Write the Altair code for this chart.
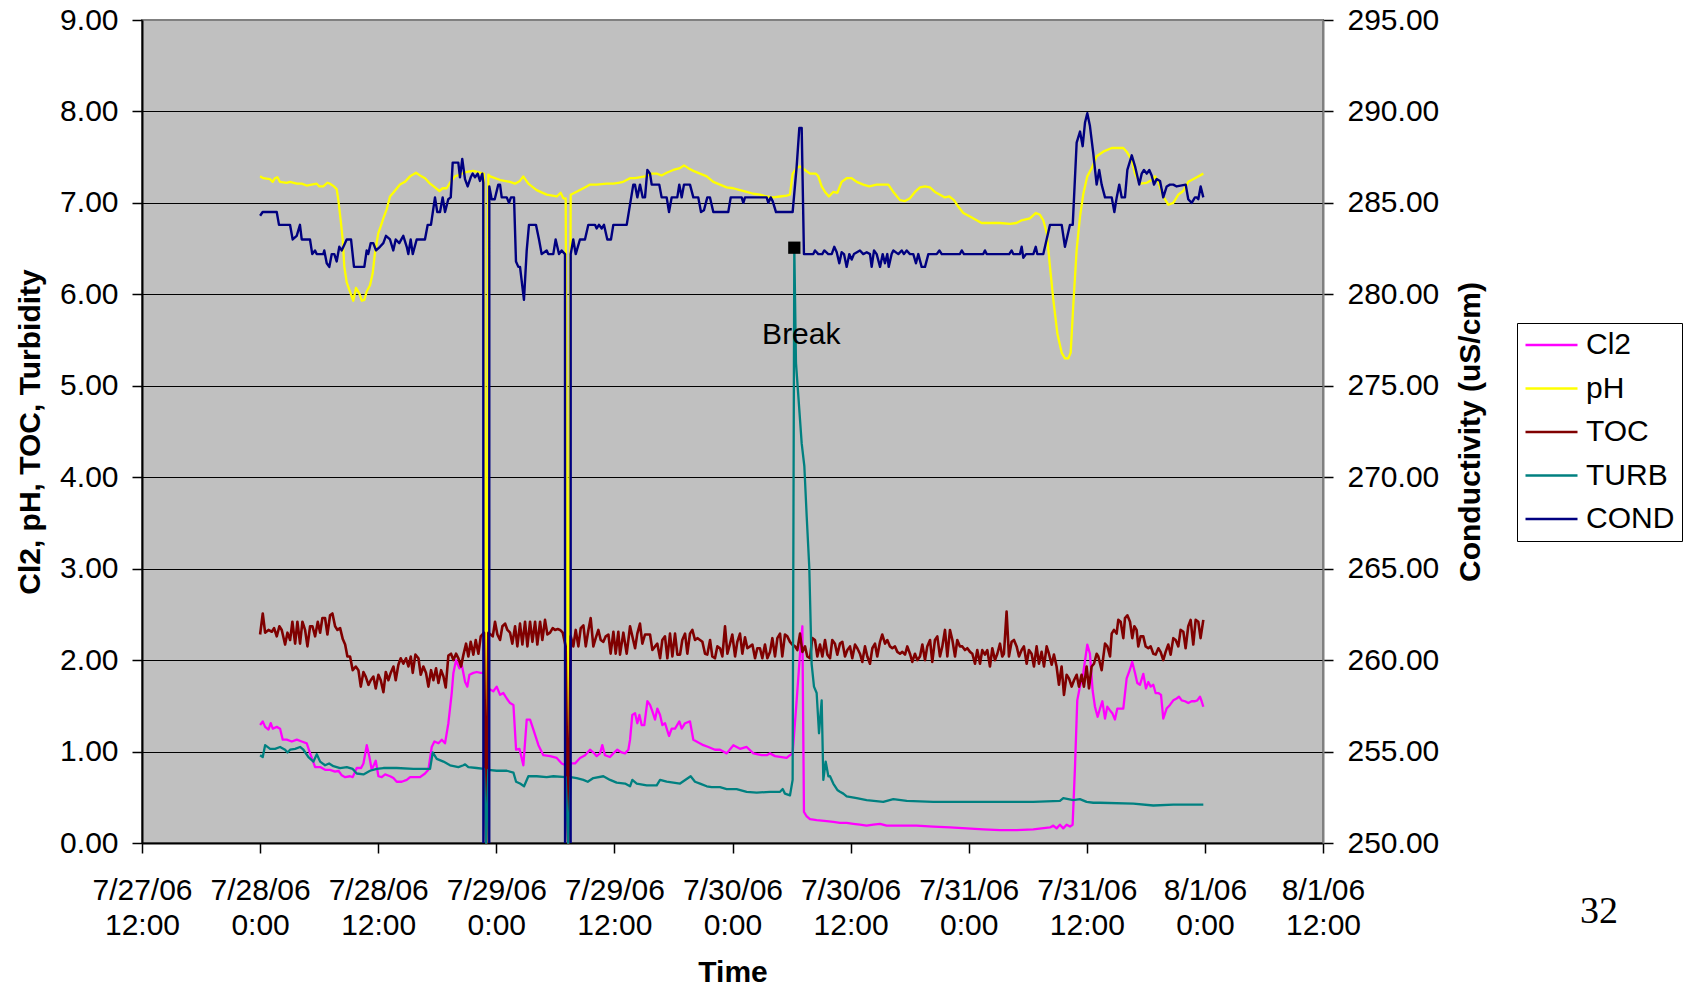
import altair as alt
import pandas as pd

# Readings as (hours after 7/28/06 0:00, value)
CL2_READINGS = [
    (0.00, 1.29), (0.27, 1.33), (0.51, 1.27), (0.85, 1.24), (1.08, 1.31), (1.29, 1.25), (1.69, 1.27),
    (2.03, 1.25), (2.30, 1.13), (2.71, 1.13), (3.22, 1.11), (3.73, 1.13), (4.23, 1.11), (4.74, 1.09),
    (5.08, 0.98), (5.59, 0.83), (6.10, 0.83), (6.60, 0.80), (7.11, 0.80), (7.62, 0.78), (7.96, 0.79),
    (8.30, 0.74), (8.64, 0.72), (9.14, 0.73), (9.41, 0.72), (9.82, 0.82), (10.26, 0.82), (10.50, 0.87),
    (10.84, 1.07), (11.11, 0.94), (11.34, 0.80), (11.75, 0.90), (12.02, 0.73), (12.36, 0.72), (12.70, 0.75),
    (13.21, 0.73), (13.55, 0.71), (13.88, 0.67), (14.39, 0.67), (14.90, 0.69), (15.24, 0.72), (15.75, 0.72),
    (16.25, 0.72), (16.76, 0.76), (17.10, 0.80), (17.44, 1.05), (17.71, 1.11), (18.12, 1.09), (18.46, 1.13),
    (18.79, 1.09), (19.13, 1.31), (19.47, 1.64), (19.64, 1.86), (19.91, 2.00), (20.25, 1.91), (20.49, 1.95),
    (20.83, 1.76), (21.06, 1.71), (21.27, 1.84), (21.67, 1.86), (22.01, 1.87), (22.42, 1.86), (22.75, 1.86),
    (22.97, 0.00), (23.19, 1.69), (23.70, 1.66), (24.04, 1.71), (24.38, 1.62), (24.72, 1.64), (25.06, 1.58),
    (25.40, 1.53), (25.74, 1.51), (26.01, 1.02), (26.35, 1.03), (26.75, 0.85), (27.09, 1.35), (27.43, 1.35),
    (27.77, 1.24), (28.28, 1.07), (28.78, 0.96), (29.46, 0.95), (30.14, 0.93), (30.65, 0.87), (31.05, 0.85),
    (31.30, 0.00), (31.56, 0.87), (32.00, 0.87), (32.51, 0.93), (33.02, 0.96), (33.52, 1.02), (33.96, 0.98),
    (34.20, 0.95), (34.54, 0.98), (34.77, 1.07), (35.04, 0.96), (35.55, 0.94), (35.89, 0.98), (36.30, 1.02),
    (36.74, 0.99), (37.08, 0.98), (37.42, 1.02), (37.59, 1.13), (37.82, 1.40), (38.10, 1.42), (38.33, 1.31),
    (38.54, 1.40), (38.77, 1.29), (39.04, 1.29), (39.35, 1.55), (39.62, 1.51), (39.86, 1.44), (40.13, 1.35),
    (40.36, 1.47), (40.64, 1.40), (40.87, 1.29), (41.14, 1.31), (41.55, 1.17), (41.82, 1.25), (42.16, 1.25),
    (42.60, 1.33), (42.84, 1.25), (43.18, 1.31), (43.68, 1.33), (44.02, 1.13), (44.53, 1.10), (45.04, 1.07),
    (45.55, 1.05), (46.22, 1.02), (46.73, 1.02), (47.07, 1.00), (47.41, 0.98), (48.09, 1.07), (48.76, 1.03),
    (49.44, 1.05), (50.12, 0.98), (50.96, 0.96), (51.47, 0.96), (51.81, 0.98), (52.32, 0.95), (52.99, 0.94),
    (53.50, 0.93), (53.84, 0.96), (54.11, 0.98), (54.52, 1.56), (54.86, 2.07), (55.10, 2.37), (55.26, 0.34),
    (55.54, 0.29), (55.87, 0.26), (56.55, 0.25), (57.57, 0.24), (58.24, 0.23), (58.92, 0.22), (59.60, 0.22),
    (60.28, 0.21), (60.95, 0.20), (61.63, 0.19), (62.31, 0.20), (62.99, 0.21), (63.66, 0.19), (65.02, 0.19),
    (66.71, 0.19), (68.40, 0.18), (70.10, 0.17), (71.79, 0.16), (73.48, 0.15), (75.18, 0.14), (76.87, 0.14),
    (78.56, 0.15), (80.26, 0.17), (80.60, 0.19), (80.93, 0.16), (81.27, 0.20), (81.61, 0.16), (81.95, 0.20),
    (82.29, 0.18), (82.56, 0.20), (82.80, 0.83), (83.03, 1.56), (83.30, 1.71), (83.64, 1.86), (84.05, 2.17),
    (84.32, 2.07), (84.59, 1.67), (84.83, 1.49), (85.10, 1.38), (85.34, 1.47), (85.58, 1.55), (85.85, 1.36),
    (86.08, 1.49), (86.36, 1.45), (86.59, 1.42), (86.86, 1.35), (87.10, 1.47), (87.44, 1.47), (87.71, 1.47),
    (88.05, 1.80), (88.39, 1.90), (88.62, 1.98), (88.90, 1.86), (89.13, 1.75), (89.40, 1.73), (89.74, 1.85),
    (90.01, 1.69), (90.25, 1.76), (90.49, 1.71), (90.76, 1.73), (90.99, 1.64), (91.27, 1.64), (91.54, 1.62),
    (91.77, 1.36), (92.11, 1.47), (92.45, 1.51), (92.79, 1.56), (93.13, 1.58), (93.37, 1.60), (93.64, 1.56),
    (93.98, 1.55), (94.31, 1.53), (94.65, 1.55), (94.99, 1.55), (95.23, 1.56), (95.50, 1.60), (95.67, 1.55),
    (95.84, 1.49),
]

PH_READINGS = [
    (0.00, 7.29), (0.33, 7.27), (1.00, 7.26), (1.28, 7.23), (1.51, 7.27), (1.75, 7.28), (2.02, 7.23),
    (2.70, 7.22), (3.04, 7.23), (3.72, 7.21), (4.23, 7.21), (4.73, 7.19), (5.24, 7.20), (5.75, 7.21),
    (6.02, 7.18), (6.42, 7.18), (6.83, 7.22), (7.10, 7.21), (7.50, 7.18), (7.78, 7.15), (7.95, 7.03),
    (8.19, 6.81), (8.39, 6.60), (8.56, 6.30), (8.80, 6.13), (9.13, 6.03), (9.47, 5.93), (9.74, 6.07),
    (10.08, 6.01), (10.33, 5.93), (10.59, 5.94), (10.83, 6.03), (11.17, 6.10), (11.44, 6.23), (11.67, 6.45),
    (12.01, 6.67), (12.25, 6.74), (12.52, 6.83), (12.86, 6.93), (13.20, 7.07), (13.53, 7.11), (14.21, 7.20),
    (14.72, 7.23), (15.23, 7.29), (15.84, 7.33), (16.25, 7.30), (16.76, 7.27), (17.27, 7.21), (17.77, 7.17),
    (18.21, 7.13), (18.55, 7.16), (18.96, 7.16), (19.29, 7.22), (19.80, 7.29), (20.31, 7.31), (20.99, 7.34),
    (21.66, 7.35), (22.34, 7.33), (22.75, 7.32), (22.97, 0.00), (23.19, 7.31), (23.37, 7.29), (24.40, 7.25),
    (25.40, 7.23), (25.90, 7.21), (26.40, 7.24), (26.74, 7.29), (27.25, 7.21), (28.10, 7.14), (29.12, 7.09),
    (30.14, 7.07), (30.54, 7.11), (30.81, 7.05), (31.05, 7.05), (31.30, 0.00), (31.56, 7.09), (32.50, 7.14),
    (33.18, 7.18), (33.52, 7.20), (34.20, 7.20), (35.20, 7.21), (35.90, 7.21), (36.40, 7.22), (36.90, 7.23),
    (37.58, 7.27), (38.09, 7.27), (39.11, 7.29), (39.79, 7.32), (40.30, 7.32), (40.80, 7.30), (41.31, 7.33),
    (41.99, 7.36), (42.66, 7.38), (43.07, 7.41), (43.51, 7.38), (44.02, 7.35), (44.70, 7.32), (45.38, 7.29),
    (46.05, 7.23), (46.73, 7.20), (47.41, 7.17), (48.08, 7.16), (48.76, 7.14), (49.44, 7.12), (50.11, 7.10),
    (50.79, 7.09), (51.47, 7.07), (52.14, 7.06), (52.82, 7.07), (53.50, 7.08), (53.84, 7.09), (54.11, 7.32),
    (54.52, 7.38), (54.86, 7.40), (55.36, 7.36), (55.87, 7.32), (56.48, 7.32), (56.72, 7.29), (57.06, 7.18),
    (57.40, 7.12), (57.80, 7.07), (58.24, 7.12), (58.65, 7.11), (59.09, 7.23), (59.60, 7.27), (60.11, 7.27),
    (60.62, 7.23), (61.29, 7.20), (61.90, 7.18), (62.65, 7.20), (63.33, 7.20), (63.83, 7.20), (64.34, 7.12),
    (65.02, 7.03), (65.53, 7.02), (66.03, 7.05), (66.54, 7.12), (67.05, 7.17), (67.56, 7.18), (68.06, 7.17),
    (68.57, 7.12), (69.08, 7.09), (69.59, 7.06), (70.03, 7.07), (70.50, 7.03), (70.94, 6.96), (71.45, 6.89),
    (72.13, 6.85), (72.81, 6.81), (73.31, 6.78), (74.16, 6.78), (75.17, 6.78), (76.19, 6.77), (76.87, 6.78),
    (77.38, 6.81), (78.22, 6.83), (78.83, 6.89), (79.24, 6.87), (79.58, 6.81), (79.93, 6.67), (80.26, 6.30),
    (80.60, 5.94), (81.01, 5.57), (81.45, 5.36), (81.78, 5.30), (82.12, 5.30), (82.36, 5.36), (82.62, 5.87),
    (82.97, 6.49), (83.31, 6.85), (83.65, 7.10), (84.05, 7.29), (84.50, 7.38), (85.00, 7.51), (85.67, 7.56),
    (86.53, 7.60), (87.71, 7.60), (88.05, 7.56), (88.56, 7.47), (88.90, 7.32), (89.41, 7.21), (90.09, 7.22),
    (90.59, 7.25), (90.93, 7.29), (91.26, 7.23), (91.77, 7.07), (92.28, 6.98), (92.79, 7.00), (93.30, 7.09),
    (93.80, 7.13), (94.31, 7.23), (94.99, 7.27), (95.84, 7.32),
]

TOC_READINGS = [
    (0.00, 2.28), (0.27, 2.51), (0.51, 2.30), (0.85, 2.33), (1.19, 2.31), (1.42, 2.35), (1.69, 2.26),
    (1.96, 2.37), (2.20, 2.33), (2.54, 2.17), (2.78, 2.30), (3.05, 2.22), (3.28, 2.42), (3.56, 2.18),
    (3.79, 2.42), (4.06, 2.18), (4.30, 2.42), (4.57, 2.33), (4.81, 2.15), (5.08, 2.37), (5.32, 2.37),
    (5.59, 2.26), (5.86, 2.42), (6.10, 2.30), (6.33, 2.46), (6.60, 2.46), (6.84, 2.28), (7.11, 2.49),
    (7.35, 2.51), (7.62, 2.37), (7.86, 2.33), (8.13, 2.35), (8.40, 2.23), (8.64, 2.17), (8.87, 2.04),
    (9.14, 2.04), (9.41, 1.89), (9.72, 1.93), (9.99, 1.89), (10.23, 1.71), (10.50, 1.87), (10.73, 1.82),
    (11.01, 1.73), (11.24, 1.78), (11.51, 1.82), (11.75, 1.69), (12.02, 1.84), (12.26, 1.78), (12.53, 1.65),
    (12.77, 1.87), (13.04, 1.78), (13.27, 1.86), (13.55, 1.93), (13.78, 1.78), (14.05, 1.95), (14.29, 2.02),
    (14.56, 1.96), (14.83, 2.02), (15.07, 1.93), (15.31, 2.04), (15.51, 1.86), (15.78, 2.06), (16.09, 2.02),
    (16.32, 1.84), (16.59, 1.93), (16.86, 1.86), (17.10, 1.71), (17.37, 1.89), (17.61, 1.78), (17.88, 1.91),
    (18.12, 1.75), (18.39, 1.89), (18.63, 1.82), (18.86, 1.70), (19.13, 2.05), (19.40, 2.07), (19.64, 2.00),
    (19.91, 2.07), (20.15, 2.02), (20.42, 1.93), (20.66, 2.06), (20.93, 2.18), (21.16, 2.04), (21.40, 2.20),
    (21.67, 2.06), (21.91, 2.22), (22.18, 2.07), (22.42, 2.26), (22.75, 2.30), (22.97, 0.00), (23.19, 2.30),
    (23.64, 2.26), (23.87, 2.42), (24.11, 2.28), (24.38, 2.22), (24.62, 2.37), (24.89, 2.40), (25.13, 2.33),
    (25.40, 2.30), (25.63, 2.18), (25.91, 2.37), (26.14, 2.15), (26.41, 2.40), (26.65, 2.17), (26.92, 2.42),
    (27.16, 2.15), (27.43, 2.42), (27.67, 2.20), (27.94, 2.42), (28.17, 2.17), (28.45, 2.42), (28.68, 2.22),
    (28.95, 2.44), (29.19, 2.28), (29.46, 2.30), (29.73, 2.35), (29.97, 2.33), (30.24, 2.34), (30.48, 2.33),
    (30.75, 2.30), (31.05, 2.15), (31.30, 0.00), (31.56, 2.26), (31.83, 2.15), (32.07, 2.33), (32.34, 2.15),
    (32.58, 2.35), (32.85, 2.38), (33.09, 2.15), (33.36, 2.33), (33.59, 2.46), (33.86, 2.15), (34.10, 2.24),
    (34.37, 2.33), (34.61, 2.22), (34.88, 2.20), (35.12, 2.26), (35.39, 2.28), (35.62, 2.07), (35.90, 2.31),
    (36.13, 2.07), (36.40, 2.31), (36.57, 2.06), (36.91, 2.30), (37.25, 2.07), (37.59, 2.37), (38.10, 2.13),
    (38.33, 2.29), (38.60, 2.40), (38.84, 2.18), (39.11, 2.28), (39.35, 2.28), (39.62, 2.28), (39.86, 2.11),
    (40.13, 2.15), (40.36, 2.18), (40.64, 2.02), (40.87, 2.22), (41.14, 2.26), (41.38, 2.02), (41.65, 2.29),
    (41.89, 2.04), (42.16, 2.29), (42.40, 2.06), (42.67, 2.06), (42.90, 2.22), (43.18, 2.29), (43.41, 2.07),
    (43.68, 2.29), (43.92, 2.33), (44.19, 2.22), (44.43, 2.24), (44.70, 2.22), (44.94, 2.20), (45.21, 2.07),
    (45.44, 2.06), (45.72, 2.22), (45.95, 2.04), (46.22, 2.02), (46.46, 2.15), (46.73, 2.13), (46.97, 2.04),
    (47.24, 2.37), (47.48, 2.07), (47.75, 2.18), (47.98, 2.28), (48.26, 2.04), (48.49, 2.20), (48.76, 2.29),
    (49.00, 2.07), (49.27, 2.25), (49.51, 2.13), (49.78, 2.15), (50.02, 2.17), (50.29, 2.02), (50.52, 2.13),
    (50.79, 2.13), (51.03, 2.02), (51.30, 2.17), (51.54, 2.02), (51.81, 2.09), (52.05, 2.24), (52.32, 2.04),
    (52.56, 2.24), (52.83, 2.29), (53.06, 2.04), (53.33, 2.28), (53.57, 2.26), (53.84, 2.20), (54.08, 2.17),
    (54.35, 2.15), (54.59, 2.11), (54.86, 2.29), (55.10, 2.09), (55.37, 2.15), (55.60, 2.04), (55.87, 2.02),
    (56.11, 2.24), (56.38, 2.22), (56.62, 2.04), (56.89, 2.17), (57.13, 2.04), (57.40, 2.22), (57.64, 2.06),
    (57.91, 2.02), (58.14, 2.22), (58.41, 2.18), (58.65, 2.06), (58.92, 2.18), (59.16, 2.20), (59.43, 2.04),
    (59.67, 2.11), (59.94, 2.15), (60.17, 2.02), (60.45, 2.17), (60.68, 2.13), (60.95, 2.07), (61.19, 1.98),
    (61.46, 2.15), (61.70, 2.04), (61.97, 1.96), (62.21, 2.13), (62.48, 2.18), (62.71, 2.04), (62.99, 2.20),
    (63.22, 2.28), (63.50, 2.18), (63.73, 2.22), (64.00, 2.15), (64.24, 2.13), (64.51, 2.15), (64.75, 2.09),
    (65.02, 2.07), (65.26, 2.09), (65.53, 2.06), (65.76, 2.15), (66.03, 2.07), (66.27, 1.98), (66.54, 2.07),
    (66.78, 2.00), (67.05, 2.04), (67.29, 2.17), (67.56, 2.00), (67.79, 2.15), (68.07, 2.22), (68.30, 1.98),
    (68.57, 2.22), (68.81, 2.26), (69.08, 2.04), (69.32, 2.15), (69.59, 2.33), (69.83, 2.04), (70.10, 2.33),
    (70.34, 2.22), (70.61, 2.04), (70.84, 2.22), (71.11, 2.15), (71.35, 2.15), (71.62, 2.11), (71.86, 2.13),
    (72.13, 2.09), (72.37, 2.07), (72.64, 1.96), (72.87, 2.11), (73.15, 1.96), (73.38, 2.11), (73.65, 2.06),
    (73.89, 2.11), (74.16, 1.93), (74.40, 2.13), (74.67, 2.00), (74.91, 2.07), (75.18, 2.18), (75.41, 2.04),
    (75.58, 2.07), (75.85, 2.53), (76.09, 2.04), (76.36, 2.20), (76.60, 2.22), (76.87, 2.15), (77.11, 2.04),
    (77.38, 2.11), (77.61, 2.15), (77.89, 1.96), (78.12, 2.11), (78.39, 2.07), (78.63, 1.93), (78.90, 2.15),
    (79.14, 1.96), (79.41, 2.09), (79.65, 1.93), (79.92, 2.15), (80.15, 2.07), (80.43, 1.95), (80.66, 2.06),
    (80.93, 1.93), (81.17, 1.73), (81.44, 1.93), (81.68, 1.62), (81.95, 1.84), (82.19, 1.80), (82.46, 1.71),
    (82.70, 1.78), (82.97, 1.84), (83.20, 1.71), (83.47, 1.84), (83.71, 1.71), (83.98, 1.93), (84.22, 1.69),
    (84.49, 1.93), (84.73, 1.96), (85.00, 2.07), (85.17, 2.04), (85.51, 1.89), (85.85, 2.18), (86.09, 2.15),
    (86.36, 2.04), (86.53, 2.29), (86.76, 2.33), (87.03, 2.29), (87.20, 2.44), (87.44, 2.42), (87.71, 2.24),
    (87.88, 2.46), (88.12, 2.49), (88.39, 2.42), (88.62, 2.24), (88.83, 2.37), (89.06, 2.33), (89.23, 2.15),
    (89.47, 2.26), (89.74, 2.26), (89.98, 2.15), (90.25, 2.13), (90.49, 2.15), (90.76, 2.07), (91.00, 2.06),
    (91.27, 2.13), (91.50, 2.09), (91.77, 2.00), (92.01, 2.09), (92.28, 2.17), (92.52, 2.06), (92.79, 2.24),
    (93.03, 2.22), (93.30, 2.15), (93.53, 2.33), (93.81, 2.31), (94.04, 2.13), (94.31, 2.37), (94.55, 2.44),
    (94.82, 2.17), (95.06, 2.44), (95.33, 2.42), (95.56, 2.24), (95.84, 2.44),
]

TURB_READINGS = [
    (0.00, 0.96), (0.27, 0.94), (0.51, 1.07), (1.02, 1.03), (1.52, 1.03), (2.03, 1.05), (2.54, 1.02),
    (2.78, 0.99), (3.05, 1.02), (3.56, 1.03), (4.06, 1.05), (4.40, 1.02), (4.91, 0.94), (5.42, 0.89),
    (5.76, 0.97), (6.10, 0.89), (6.60, 0.85), (7.01, 0.87), (7.45, 0.84), (8.13, 0.82), (8.81, 0.83),
    (9.41, 0.81), (9.82, 0.76), (10.50, 0.75), (11.17, 0.79), (11.85, 0.81), (12.53, 0.82), (13.88, 0.82),
    (15.58, 0.81), (17.27, 0.81), (17.54, 0.99), (17.95, 0.92), (18.63, 0.89), (19.30, 0.85), (20.15, 0.83),
    (20.66, 0.85), (20.83, 0.86), (21.16, 0.83), (22.01, 0.82), (22.75, 0.81), (22.97, 0.00), (23.19, 0.80),
    (24.04, 0.79), (25.06, 0.79), (25.74, 0.77), (26.01, 0.67), (26.41, 0.65), (26.82, 0.62), (27.26, 0.73),
    (28.11, 0.73), (29.12, 0.72), (29.80, 0.73), (31.05, 0.72), (31.30, 0.00), (31.56, 0.72), (32.17, 0.71),
    (32.85, 0.69), (33.29, 0.67), (33.86, 0.71), (34.88, 0.73), (35.56, 0.69), (36.23, 0.66), (37.08, 0.65),
    (37.59, 0.62), (37.82, 0.69), (38.27, 0.65), (39.28, 0.63), (40.30, 0.63), (40.64, 0.69), (41.31, 0.67),
    (42.67, 0.65), (43.34, 0.70), (43.75, 0.73), (44.19, 0.67), (44.70, 0.65), (45.38, 0.62), (45.88, 0.61),
    (46.73, 0.61), (47.41, 0.59), (48.42, 0.59), (49.44, 0.56), (50.46, 0.55), (51.81, 0.56), (52.83, 0.56),
    (53.10, 0.59), (53.33, 0.54), (53.84, 0.52), (54.11, 0.69), (54.28, 6.51), (54.45, 5.25), (54.86, 4.63),
    (55.03, 4.37), (55.30, 4.12), (55.54, 3.57), (55.80, 3.02), (56.04, 1.96), (56.28, 1.71), (56.55, 1.64),
    (56.79, 1.20), (57.06, 1.56), (57.23, 0.69), (57.47, 0.89), (57.74, 0.73), (57.91, 0.73), (58.24, 0.65),
    (58.65, 0.58), (58.92, 0.56), (59.26, 0.54), (59.60, 0.51), (60.62, 0.49), (61.63, 0.47), (63.32, 0.45),
    (64.34, 0.48), (65.70, 0.46), (68.40, 0.45), (70.10, 0.45), (71.79, 0.45), (75.18, 0.45), (78.56, 0.45),
    (81.27, 0.46), (81.61, 0.49), (82.12, 0.48), (82.63, 0.47), (83.30, 0.48), (83.98, 0.45), (84.66, 0.44),
    (85.33, 0.44), (88.73, 0.43), (90.76, 0.41), (92.79, 0.42), (94.14, 0.42), (95.84, 0.42),
]

COND_READINGS = [
    (0.00, 284.3), (0.26, 284.5), (1.69, 284.5), (1.92, 283.8), (3.04, 283.8), (3.31, 283.0), (3.72, 283.2),
    (4.05, 283.8), (4.23, 283.0), (5.07, 283.0), (5.30, 282.2), (5.58, 282.4), (5.75, 282.2), (6.42, 282.2),
    (6.52, 282.4), (6.77, 281.7), (7.03, 281.5), (7.28, 282.2), (7.54, 282.2), (7.78, 281.8), (8.05, 282.6),
    (8.29, 282.4), (8.80, 283.0), (9.24, 283.0), (9.54, 281.5), (10.59, 281.5), (10.83, 282.4), (10.99, 282.2),
    (11.24, 282.8), (11.50, 282.8), (11.78, 282.4), (12.18, 282.6), (12.52, 282.8), (12.79, 283.2), (13.20, 283.0),
    (13.53, 282.4), (13.78, 283.0), (14.14, 282.8), (14.55, 283.2), (14.90, 282.6), (15.06, 282.2), (15.30, 283.0),
    (15.51, 282.2), (15.91, 283.0), (16.75, 283.0), (17.03, 283.8), (17.36, 283.8), (17.77, 285.3), (18.00, 284.5),
    (18.28, 284.5), (18.55, 285.3), (18.79, 284.5), (19.12, 285.2), (19.37, 285.3), (19.57, 287.2), (20.14, 287.2),
    (20.31, 286.4), (20.54, 287.4), (20.82, 286.3), (21.09, 285.9), (21.40, 286.4), (21.60, 286.6), (21.84, 286.4),
    (22.11, 286.6), (22.34, 286.2), (22.58, 286.6), (22.68, 286.1), (22.75, 0.0), (23.25, 0.0), (23.29, 285.9),
    (23.53, 285.2), (23.84, 285.2), (24.20, 286.0), (24.38, 286.0), (24.55, 285.3), (25.06, 285.3), (25.29, 285.0),
    (25.49, 285.3), (25.80, 285.3), (26.00, 281.8), (26.24, 281.5), (26.41, 281.5), (26.81, 279.7), (27.09, 282.4),
    (27.32, 283.8), (28.03, 283.8), (28.34, 283.0), (28.61, 282.2), (29.12, 282.4), (29.28, 282.2), (29.79, 282.2),
    (30.03, 283.0), (30.37, 282.2), (30.64, 282.4), (30.98, 282.2), (31.05, 0.0), (31.50, 0.0), (31.56, 282.2),
    (31.82, 283.0), (32.07, 282.2), (32.50, 283.0), (33.01, 283.0), (33.35, 283.8), (34.03, 283.8), (34.20, 283.6),
    (34.43, 283.8), (34.71, 283.6), (34.94, 283.8), (35.28, 283.0), (35.65, 283.0), (35.89, 283.8), (37.25, 283.8),
    (37.92, 286.0), (38.09, 286.0), (38.33, 285.3), (38.60, 286.0), (38.88, 285.3), (39.11, 285.3), (39.35, 286.8),
    (39.62, 286.6), (39.79, 286.0), (40.56, 286.0), (40.80, 285.3), (41.31, 285.3), (41.55, 284.5), (41.82, 285.3),
    (42.39, 285.3), (42.59, 286.0), (42.84, 285.3), (43.07, 286.0), (43.68, 286.0), (44.02, 285.3), (44.52, 285.3),
    (44.80, 284.5), (45.10, 284.6), (45.44, 285.3), (45.71, 285.3), (46.05, 284.5), (47.57, 284.5), (47.82, 285.3),
    (48.93, 285.3), (49.10, 285.0), (49.27, 285.3), (51.47, 285.3), (51.64, 285.0), (51.88, 285.3), (52.08, 285.1),
    (52.42, 284.5), (54.11, 284.5), (54.52, 287.0), (54.79, 289.1), (55.03, 289.1), (55.26, 282.2), (56.21, 282.2),
    (56.38, 282.4), (56.72, 282.2), (57.12, 282.2), (57.33, 282.4), (57.73, 282.2), (58.08, 282.2), (58.34, 282.6),
    (58.59, 282.3), (58.85, 281.7), (59.09, 282.3), (59.33, 282.2), (59.60, 281.5), (59.87, 282.2), (60.11, 281.9),
    (60.34, 282.2), (60.95, 282.4), (61.29, 282.2), (61.64, 282.3), (61.97, 282.2), (62.14, 281.5), (62.38, 282.4),
    (62.65, 282.2), (62.99, 281.5), (63.26, 282.2), (63.49, 281.7), (63.73, 282.2), (63.87, 281.5), (64.17, 282.2),
    (64.34, 282.4), (64.85, 282.2), (65.19, 282.4), (65.42, 282.2), (65.70, 282.4), (66.03, 282.2), (66.37, 282.2),
    (66.64, 281.7), (66.88, 282.2), (67.22, 281.5), (67.56, 281.5), (67.90, 282.2), (68.75, 282.2), (69.02, 282.4),
    (69.26, 282.2), (71.11, 282.2), (71.29, 282.4), (71.52, 282.2), (73.48, 282.2), (73.65, 282.4), (73.83, 282.2),
    (76.12, 282.2), (76.36, 282.4), (76.53, 282.2), (77.21, 282.2), (77.38, 282.6), (77.55, 282.0), (77.82, 282.2),
    (78.57, 282.2), (78.81, 282.6), (78.97, 282.2), (79.58, 282.2), (80.26, 283.8), (81.45, 283.8), (81.78, 282.6),
    (82.29, 283.8), (82.57, 283.8), (82.97, 288.3), (83.31, 288.9), (83.58, 288.1), (83.82, 289.4), (84.05, 289.9),
    (84.32, 289.2), (84.66, 287.7), (85.00, 286.0), (85.26, 286.8), (85.51, 286.0), (85.85, 285.3), (86.53, 285.3),
    (86.80, 284.5), (87.04, 285.3), (87.30, 286.0), (87.55, 285.3), (87.88, 285.3), (88.12, 286.8), (88.57, 287.6),
    (88.90, 287.0), (89.33, 286.0), (89.58, 286.6), (89.81, 286.8), (90.09, 286.6), (90.35, 286.8), (90.59, 286.5),
    (90.83, 286.0), (91.10, 286.3), (91.44, 286.2), (91.77, 285.3), (92.12, 285.9), (92.45, 286.0), (92.79, 286.0),
    (93.13, 285.9), (94.05, 286.0), (94.31, 285.2), (94.66, 285.0), (94.99, 285.3), (95.16, 285.3), (95.33, 285.2),
    (95.57, 285.9), (95.84, 285.3),
]

SERIES_NAMES = ["Cl2", "pH", "TOC", "TURB", "COND"]
SERIES_COLORS = ["#FF00FF", "#FFFF00", "#800000", "#008080", "#000080"]

TIME_TICKS = [
    "2006-07-27 12:00", "2006-07-28 00:00", "2006-07-28 12:00", "2006-07-29 00:00",
    "2006-07-29 12:00", "2006-07-30 00:00", "2006-07-30 12:00", "2006-07-31 00:00",
    "2006-07-31 12:00", "2006-08-01 00:00", "2006-08-01 12:00",
]
LEFT_TICKS = [0, 1, 2, 3, 4, 5, 6, 7, 8, 9]
RIGHT_TICKS = [250, 255, 260, 265, 270, 275, 280, 285, 290, 295]

BREAK_HOUR = 54.28
BREAK_LABEL = "Break"
PAGE_NUMBER = "32"

FONT = "Liberation Sans"
HOUR_MS = 3_600_000


def to_ms(stamp):
    return pd.Timestamp(stamp, tz="UTC").value // 1_000_000


BASE_MS = to_ms("2006-07-28 00:00")
TICK_MS = [to_ms(s) for s in TIME_TICKS]


def frame(name, readings):
    return pd.DataFrame({
        "series": name,
        "time": [BASE_MS + h * HOUR_MS for h, _ in readings],
        "value": [v for _, v in readings],
    })


frames = {
    "Cl2": frame("Cl2", CL2_READINGS),
    "pH": frame("pH", PH_READINGS),
    "TOC": frame("TOC", TOC_READINGS),
    "TURB": frame("TURB", TURB_READINGS),
    "COND": frame("COND", COND_READINGS),
}

turb_lookup = dict(TURB_READINGS)
break_df = pd.DataFrame({
    "time": [BASE_MS + BREAK_HOUR * HOUR_MS],
    "value": [turb_lookup[BREAK_HOUR]],
    "label": [BREAK_LABEL],
})
page_df = pd.DataFrame({"page": [PAGE_NUMBER]})

x_enc = alt.X(
    "time:T",
    scale=alt.Scale(type="utc", domain=[TICK_MS[0], TICK_MS[-1]]),
    axis=alt.Axis(
        title="Time",
        values=TICK_MS,
        labelExpr="[utcFormat(datum.value, '%-m/%-d/%y'), utcFormat(datum.value, '%-H:%M')]",
        labelFont=FONT, labelFontSize=30, labelLineHeight=35.5, labelPadding=22,
        labelAlign="center", labelBaseline="top", labelFlush=False, labelOverlap=False,
        labelColor="#000000",
        tickSize=10, tickColor="#000000", tickWidth=1.5,
        domainColor="#000000", domainWidth=2, grid=False,
        titleFont=FONT, titleFontSize=30, titleFontWeight="bold", titleColor="#000000",
        titleY=129, titleBaseline="middle",
    ),
)

left_y = alt.Y(
    "value:Q",
    scale=alt.Scale(domain=[LEFT_TICKS[0], LEFT_TICKS[-1]], nice=False, zero=False),
    axis=alt.Axis(
        title="Cl2, pH, TOC, Turbidity", values=LEFT_TICKS, format=".2f",
        grid=True,
        gridColor={"condition": {"test": "datum.value >= 9", "value": "#808080"}, "value": "#000000"},
        gridWidth=1,
        domainColor="#000000", domainWidth=2, tickColor="#000000", tickWidth=1.5, tickSize=10,
        labelFont=FONT, labelFontSize=30, labelPadding=14, labelColor="#000000",
        titleFont=FONT, titleFontSize=30, titleFontWeight="bold", titleColor="#000000",
        titleX=-112, titleY=411.5, titleAngle=270, titleBaseline="middle", titleAlign="center",
    ),
)

right_y = alt.Y(
    "value:Q",
    scale=alt.Scale(domain=[RIGHT_TICKS[0], RIGHT_TICKS[-1]], nice=False, zero=False),
    axis=alt.Axis(
        orient="right", title="Conductivity (uS/cm)", values=RIGHT_TICKS, format=".2f",
        grid=False,
        domainColor="#808080", domainWidth=2, tickColor="#000000", tickWidth=1.5, tickSize=10,
        labelFont=FONT, labelFontSize=30, labelPadding=14, labelColor="#000000",
        titleFont=FONT, titleFontSize=30, titleFontWeight="bold", titleColor="#000000",
        titleX=147, titleY=411.5, titleAngle=270, titleBaseline="middle", titleAlign="center",
    ),
)

color_enc = alt.Color(
    "series:N",
    scale=alt.Scale(domain=SERIES_NAMES, range=SERIES_COLORS),
    legend=alt.Legend(
        title=None, orient="none", legendX=1375, legendY=303,
        symbolType="stroke", symbolSize=2704, symbolStrokeWidth=2.5,
        labelFont=FONT, labelFontSize=30, labelColor="#000000", labelOffset=7, labelLimit=300,
        padding=7, rowPadding=13.5, clipHeight=30,
        strokeColor="#000000", fillColor="#FFFFFF",
    ),
)


def series_line(name, width):
    return alt.Chart(frames[name]).mark_line(
        strokeWidth=width, strokeJoin="round", interpolate="linear"
    ).encode(x=x_enc, y=left_y, color=color_enc)


break_marker = alt.Chart(break_df).mark_square(
    size=150, color="#000000", opacity=1, filled=True
).encode(x=x_enc, y=left_y)

break_text = alt.Chart(break_df).mark_text(
    font=FONT, fontSize=30, color="#000000", dx=7, dy=87, align="center", baseline="middle"
).encode(x=x_enc, y=left_y, text="label:N")

page_text = alt.Chart(page_df).mark_text(
    font="Liberation Serif", fontSize=38, color="#000000", align="center", baseline="middle"
).encode(x=alt.value(1457), y=alt.value(892), text="page:N")

left_group = alt.layer(
    series_line("Cl2", 2.3),
    series_line("pH", 2.3),
    series_line("TOC", 2.6),
    series_line("TURB", 2.3),
    break_marker,
    break_text,
    page_text,
)

cond_line = alt.Chart(frames["COND"]).mark_line(
    strokeWidth=2.4, strokeJoin="round", interpolate="linear", clip=True
).encode(x=x_enc, y=right_y, color=color_enc)

chart = (
    alt.layer(left_group, cond_line)
    .resolve_scale(y="independent")
    .properties(
        width=1181,
        height=823,
        autosize=alt.AutoSizeParams(type="none"),
        padding={"left": 142, "top": 20, "right": 363, "bottom": 144},
        background="#FFFFFF",
    )
    .configure(font=FONT)
    .configure_view(fill="#C0C0C0", stroke="#808080", strokeWidth=2)
)

chart.save("out.html", embed_options={"renderer": "svg", "actions": False})
